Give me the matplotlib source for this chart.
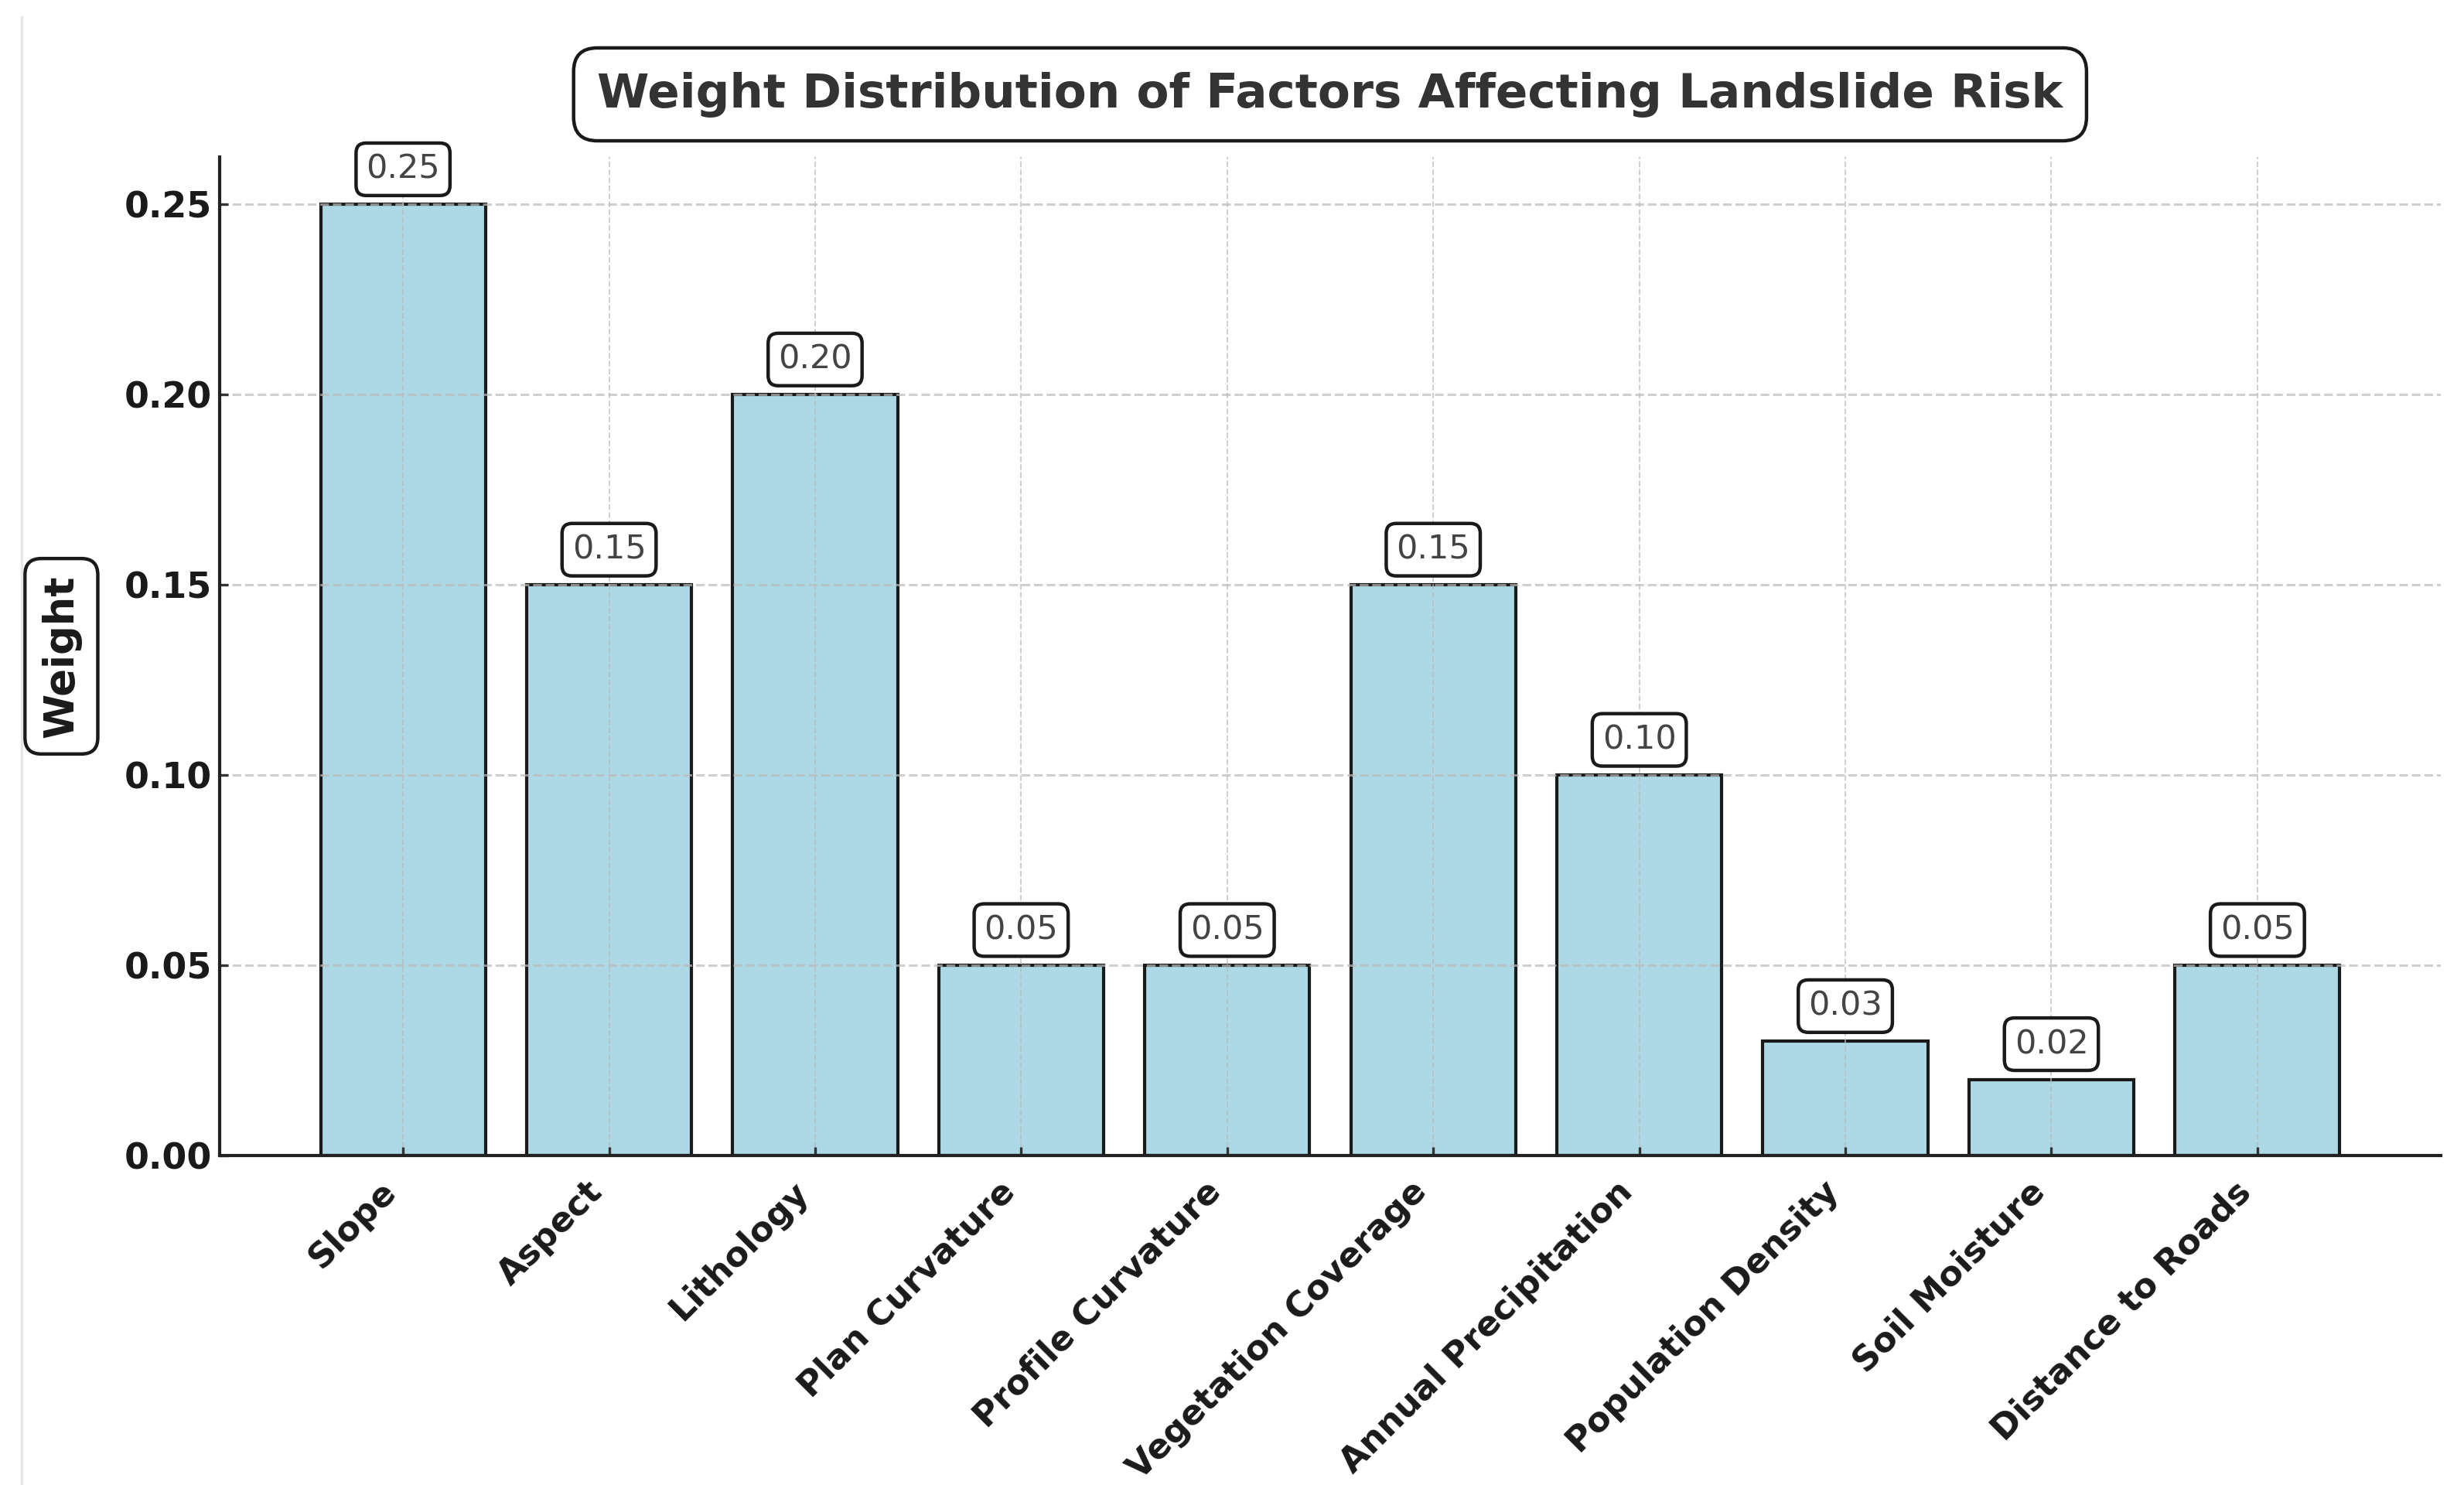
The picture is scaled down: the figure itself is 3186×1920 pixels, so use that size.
import matplotlib
matplotlib.use("Agg")
import matplotlib.pyplot as plt
from matplotlib.lines import Line2D

factors = ["Slope", "Aspect", "Lithology", "Plan Curvature", "Profile Curvature",
           "Vegetation Coverage", "Annual Precipitation", "Population Density",
           "Soil Moisture", "Distance to Roads"]
weights = [0.25, 0.15, 0.20, 0.05, 0.05, 0.15, 0.10, 0.03, 0.02, 0.05]
title = "Weight Distribution of Factors Affecting Landslide Risk"
ylabel = "Weight"

plt.rcParams['font.family'] = ['DejaVu Sans']

fig = plt.figure(figsize=(15.93, 9.6), dpi=200)
ax = fig.add_axes([284/3186, 1-1494/1920, (3156-284)/3186, (1494-203)/1920])

bars = ax.bar(factors, weights, width=0.8, color="#ADD8E6", edgecolor="#1a1a1a", linewidth=1.5)
ax.set_ylim(0, 0.2625)
ax.set_xlim(-0.89, 9.89)
ax.set_yticks([0.0, 0.05, 0.10, 0.15, 0.20, 0.25])
ax.set_yticklabels([f"{v:.2f}" for v in [0.0, 0.05, 0.10, 0.15, 0.20, 0.25]])

for b, v in zip(bars, weights):
    ax.text(b.get_x() + b.get_width()/2, v + 0.005, f"{v:.2f}", ha="center", va="bottom",
            fontsize=15.5, color="#444444",
            bbox=dict(boxstyle="round,pad=0.3", facecolor="white", edgecolor="#1a1a1a", linewidth=1.6))

ax.yaxis.grid(True, linestyle="--", color="#bbbbbb", linewidth=1.1, alpha=0.7)
ax.xaxis.grid(True, linestyle="--", color="#bbbbbb", linewidth=0.7, alpha=0.7)

for s in ["top", "right"]:
    ax.spines[s].set_visible(False)
for s in ["left", "bottom"]:
    ax.spines[s].set_linewidth(1.5)
    ax.spines[s].set_color("#222222")

ax.tick_params(axis="both", direction="in", length=4, width=1.2, color="#333333")
ax.tick_params(axis="x", pad=9)
plt.setp(ax.get_yticklabels(), fontsize=16.5, fontweight="bold", color="#1a1a1a")
plt.setp(ax.get_xticklabels(), fontsize=16, fontweight="bold", color="#1a1a1a",
         rotation=45, ha="right")

ax.set_ylabel(ylabel, fontsize=19, fontweight="bold", color="#1a1a1a", labelpad=20,
              bbox=dict(boxstyle="round,pad=0.4", facecolor="white", edgecolor="#1a1a1a", linewidth=1.6))

fig.text(0.5398, 1-122/1920, title, ha="center", va="center", fontsize=22, fontweight="bold",
         color="#333333",
         bbox=dict(boxstyle="round,pad=0.5", facecolor="white", edgecolor="#1a1a1a", linewidth=1.6))

fig.add_artist(Line2D([28/3186, 28/3186], [0.0, 1-22/1920], color="#e6e6e6", linewidth=1.2))

fig.savefig("out.png", dpi=200)
